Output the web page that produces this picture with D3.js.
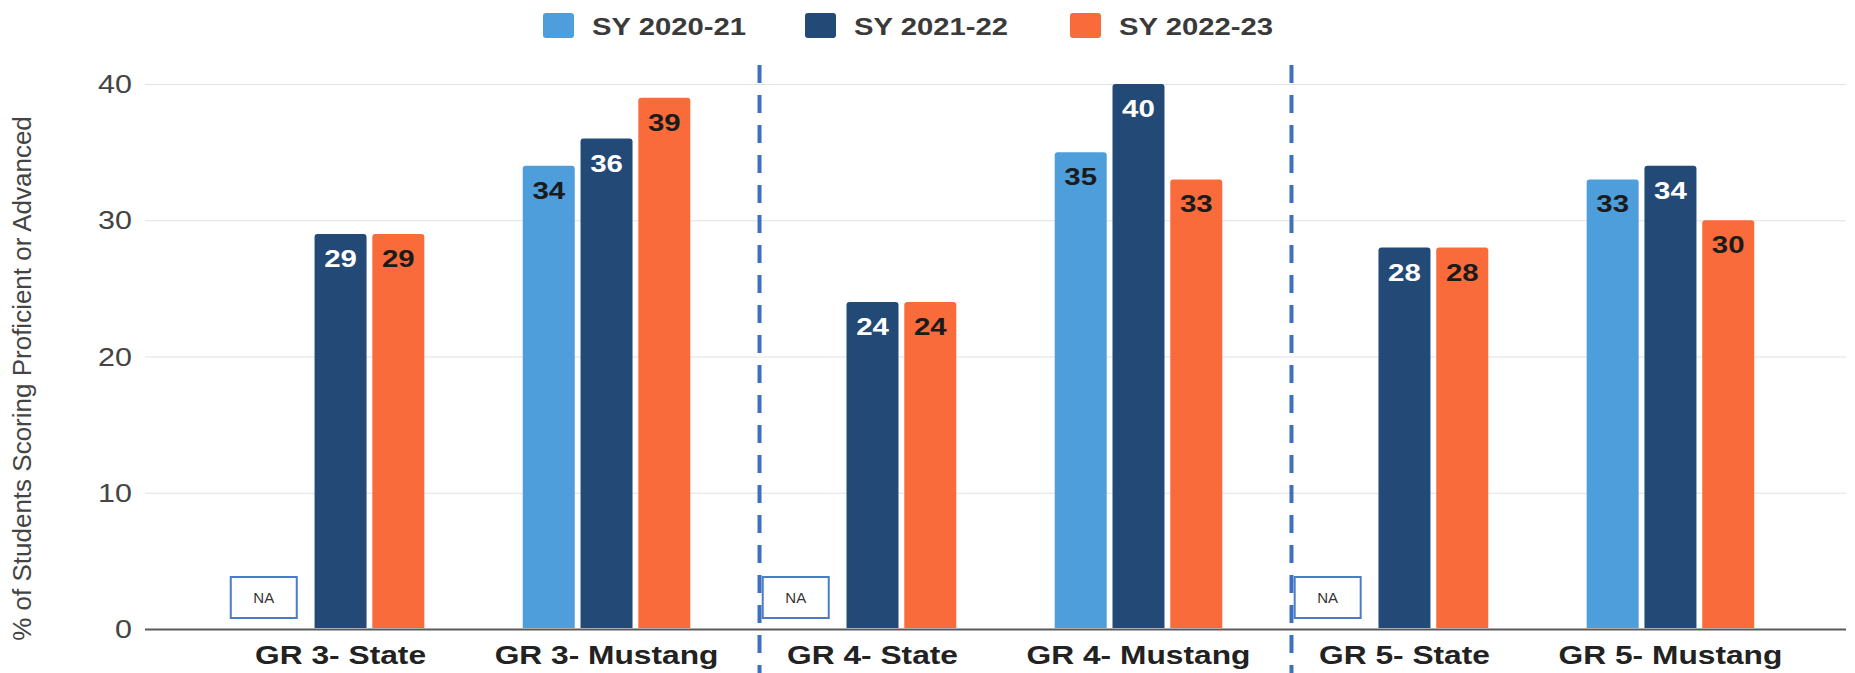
<!DOCTYPE html>
<html>
<head>
<meta charset="utf-8">
<script src="https://cdn.jsdelivr.net/npm/d3@7"></script>
<style>
  body { margin: 0; background: #fff; }
  text { font-family: "Liberation Sans", Arial, sans-serif; }
</style>
</head>
<body>
<script>
// chart data
const categories = ['GR 3- State', 'GR 3- Mustang', 'GR 4- State', 'GR 4- Mustang', 'GR 5- State', 'GR 5- Mustang'];
const seriesNames = ['SY 2020-21', 'SY 2021-22', 'SY 2022-23'];
const sy2020 = [null, 34, null, 35, null, 33]; // null = NA
const sy2021 = [29, 36, 24, 40, 28, 34];
const sy2022 = [29, 39, 24, 33, 28, 30];
const yTicks = [0, 10, 20, 30, 40];
const dividerAfter = ['GR 3- Mustang', 'GR 4- Mustang'];

const colors = ['#4f9edc', '#234a76', '#f96b3a'];
const labelColors = ['#1b1b1b', '#ffffff', '#1b1b1b'];
const seriesValues = [sy2020, sy2021, sy2022];

// the scan is stretched sideways, so horizontal text gets a small x-scale
const SX = 1.22;

const width = 1855;
const height = 673;
const plotLeft = 145;
const plotRight = 1846;

const svg = d3.select('body').append('svg')
  .attr('width', width)
  .attr('height', height);

const y = d3.scaleLinear().domain([0, 40]).range([629, 84]);

const x0 = d3.scaleBand()
  .domain(categories)
  .range([165, 1846])
  .paddingInner(0.37)
  .paddingOuter(0.345);

const x1 = d3.scaleBand()
  .domain(seriesNames)
  .range([0, x0.bandwidth()])
  .paddingInner(0.1);

// text helper that keeps the anchor point and stretches glyphs
const stretchedText = (g, x, yy, str, anchor, sx = SX) => g.append('text')
  .attr('transform', `translate(${x},${yy}) scale(${sx},1)`)
  .attr('text-anchor', anchor)
  .text(str);

// gridlines + tick labels
const yAxis = svg.append('g')
  .attr('transform', `translate(${plotLeft},0)`)
  .call(d3.axisLeft(y).tickValues(yTicks).tickSize(-(plotRight - plotLeft)).tickFormat(() => ''));
yAxis.select('.domain').remove();
yAxis.selectAll('.tick line')
  .attr('stroke', d => d === 0 ? '#5a5a5a' : '#e2e2e2')
  .attr('stroke-width', d => d === 0 ? 2 : 1.2);

const tickG = svg.append('g')
  .attr('font-size', 25)
  .attr('fill', '#444');
yTicks.forEach(t => {
  stretchedText(tickG, 132, y(t) + 9, String(t), 'end');
});

// y title
svg.append('text')
  .attr('transform', `translate(31,${(y(0) + y(40)) / 2 + 22}) rotate(-90)`)
  .attr('text-anchor', 'middle')
  .attr('font-size', 26)
  .attr('fill', '#444')
  .text('% of Students Scoring Proficient or Advanced');

// dashed dividers between grade groups
const step = x0.step();
svg.append('g')
  .selectAll('line')
  .data(dividerAfter)
  .enter().append('line')
    .attr('x1', d => x0(d) + x0.bandwidth() / 2 + step / 2 + 20)
    .attr('x2', d => x0(d) + x0.bandwidth() / 2 + step / 2 + 20)
    .attr('y1', 65)
    .attr('y2', height)
    .attr('stroke', '#3e70c2')
    .attr('stroke-width', 4)
    .attr('stroke-dasharray', '18 12');

// flat-bottom bar with rounded top corners
const barPath = (x, top, w, bottom) => {
  const r = 3;
  return `M${x},${bottom}V${top + r}Q${x},${top} ${x + r},${top}H${x + w - r}Q${x + w},${top} ${x + w},${top + r}V${bottom}Z`;
};

// flatten to one record per category and series
const records = [];
categories.forEach((c, i) => {
  seriesNames.forEach((s, j) => {
    records.push({cat: c, series: s, idx: j, val: seriesValues[j][i]});
  });
});

const bars = records.filter(d => d.val !== null);
const missing = records.filter(d => d.val === null);

svg.append('g')
  .selectAll('path')
  .data(bars)
  .enter().append('path')
    .attr('d', d => barPath(x0(d.cat) + x1(d.series), y(d.val), x1.bandwidth(), y(0) - 1))
    .attr('fill', d => colors[d.idx]);

const valG = svg.append('g')
  .attr('font-size', 23)
  .attr('font-weight', 'bold');
bars.forEach(d => {
  stretchedText(valG, x0(d.cat) + x1(d.series) + x1.bandwidth() / 2, y(d.val) + 33, String(d.val), 'middle', 1.28)
    .attr('fill', labelColors[d.idx]);
});

// NA boxes where the first year had no data
const naG = svg.append('g');
missing.forEach(d => {
  const cx = x0(d.cat) + x1(d.series) + x1.bandwidth() / 2 - 19;
  naG.append('rect')
    .attr('x', cx - 33)
    .attr('y', y(0) - 52)
    .attr('width', 66)
    .attr('height', 41)
    .attr('fill', '#fff')
    .attr('stroke', '#4a7cc9')
    .attr('stroke-width', 2);
  naG.append('text')
    .attr('x', cx)
    .attr('y', y(0) - 26)
    .attr('text-anchor', 'middle')
    .attr('font-size', 15)
    .attr('fill', '#333')
    .text('NA');
});

// category labels
const catG = svg.append('g')
  .attr('font-size', 26)
  .attr('font-weight', 'bold')
  .attr('fill', '#222');
categories.forEach(c => {
  stretchedText(catG, x0(c) + x0.bandwidth() / 2, 664, c, 'middle');
});

// legend
const legendX = [543, 805, 1070];
const legend = svg.append('g');
seriesNames.forEach((s, j) => {
  legend.append('rect')
    .attr('x', legendX[j])
    .attr('y', 13)
    .attr('width', 31)
    .attr('height', 25)
    .attr('rx', 3)
    .attr('fill', colors[j]);
  stretchedText(legend, legendX[j] + 49, 35, s, 'start')
    .attr('font-size', 24)
    .attr('font-weight', 'bold')
    .attr('fill', '#3a3a3a');
});
</script>
</body>
</html>
